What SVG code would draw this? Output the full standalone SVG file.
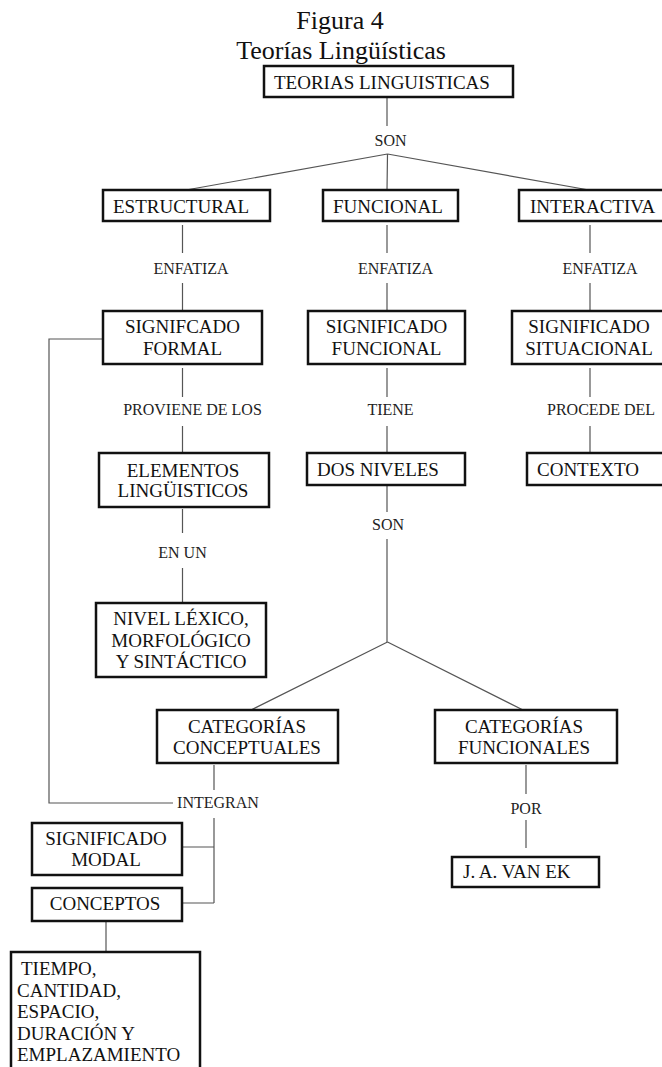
<svg xmlns="http://www.w3.org/2000/svg" width="662" height="1067" viewBox="0 0 662 1067">
<style>
text{font-family:"Liberation Serif","Times New Roman",serif;fill:#111}
.title{font-size:26px;text-anchor:middle}
.box{fill:#fff;stroke:#111;stroke-width:2.5}
.t{font-size:19px}
.c{text-anchor:middle}
.lbl{font-size:16px;text-anchor:middle;fill:#222}
.con{fill:none;stroke:#555;stroke-width:1.2}
</style>
<rect width="662" height="1067" fill="#fff"/>
<g id="title">
<text class="title" x="340" y="29">Figura 4</text>
<text class="title" x="341" y="59">Teorías Lingüísticas</text>
</g>
<g id="connectors">
<path class="con" d="M387 98V126"/>
<path class="con" d="M387.5 154L186 190M387.5 154L387 190M387.5 154L589 190"/>
<path class="con" d="M182.5 225V253M182.5 283V311M387 225V253M387 283V311M590 225V253M590 283V311"/>
<path class="con" d="M182.5 368V397M182.5 426V453M387 368V397M387 426V453M590 368V397M590 426V453"/>
<path class="con" d="M182.5 509V533M182.5 568V603"/>
<path class="con" d="M387 485V512M387 539V642"/>
<path class="con" d="M387.5 642L251 710M387.5 642L523 710"/>
<path class="con" d="M214 765V790M214 818V903M182 847H214M182 903H214"/>
<path class="con" d="M526 765V794M526 820V848"/>
<path class="con" d="M103 339H49V803H173"/>
<path class="con" d="M106 922V952"/>
</g>
<g id="labels">
<text class="lbl" x="390.5" y="146">SON</text>
<text class="lbl" x="191" y="274">ENFATIZA</text>
<text class="lbl" x="395.5" y="274">ENFATIZA</text>
<text class="lbl" x="600" y="274">ENFATIZA</text>
<text class="lbl" x="192.5" y="415">PROVIENE DE LOS</text>
<text class="lbl" x="390.5" y="415">TIENE</text>
<text class="lbl" x="601" y="415">PROCEDE DEL</text>
<text class="lbl" x="388" y="530">SON</text>
<text class="lbl" x="182.5" y="558">EN UN</text>
<text class="lbl" x="218" y="808">INTEGRAN</text>
<text class="lbl" x="526" y="814">POR</text>
</g>
<g id="n_teorias"><rect class="box" x="264" y="66" width="249" height="31"/><text class="t" x="274" y="89">TEORIAS LINGUISTICAS</text></g>
<g id="n_estructural"><rect class="box" x="103" y="190" width="167" height="31"/><text class="t" x="113" y="213">ESTRUCTURAL</text></g>
<g id="n_funcional"><rect class="box" x="323" y="190" width="135" height="31"/><text class="t" x="333" y="213">FUNCIONAL</text></g>
<g id="n_interactiva"><rect class="box" x="519" y="190" width="145" height="31"/><text class="t" x="530" y="213">INTERACTIVA</text></g>
<g id="n_sig_formal"><rect class="box" x="103" y="311" width="159" height="53"/><text class="t c" x="182.5" y="333">SIGNIFCADO</text><text class="t c" x="182.5" y="354.5">FORMAL</text></g>
<g id="n_sig_funcional"><rect class="box" x="308" y="311" width="157" height="53"/><text class="t c" x="386.5" y="333">SIGNIFICADO</text><text class="t c" x="386.5" y="354.5">FUNCIONAL</text></g>
<g id="n_sig_situacional"><rect class="box" x="512" y="311" width="152" height="53"/><text class="t c" x="589" y="333">SIGNIFICADO</text><text class="t c" x="589" y="354.5">SITUACIONAL</text></g>
<g id="n_elementos"><rect class="box" x="99" y="453" width="170" height="54"/><text class="t c" x="183" y="476.5">ELEMENTOS</text><text class="t c" x="183" y="497">LINGÜISTICOS</text></g>
<g id="n_dos_niveles"><rect class="box" x="307" y="453" width="158" height="32"/><text class="t" x="317" y="476">DOS NIVELES</text></g>
<g id="n_contexto"><rect class="box" x="527" y="453" width="137" height="32"/><text class="t" x="537" y="476">CONTEXTO</text></g>
<g id="n_nivel_lexico"><rect class="box" x="96" y="603" width="170" height="74"/><text class="t c" x="181" y="625">NIVEL LÉXICO,</text><text class="t c" x="181" y="646.5">MORFOLÓGICO</text><text class="t c" x="181" y="667.5">Y SINTÁCTICO</text></g>
<g id="n_cat_conceptuales"><rect class="box" x="157" y="710" width="181" height="53"/><text class="t c" x="247" y="733">CATEGORÍAS</text><text class="t c" x="247" y="754">CONCEPTUALES</text></g>
<g id="n_cat_funcionales"><rect class="box" x="435" y="710" width="182" height="53"/><text class="t c" x="524" y="733">CATEGORÍAS</text><text class="t c" x="524" y="754">FUNCIONALES</text></g>
<g id="n_sig_modal"><rect class="box" x="32" y="823" width="150" height="52"/><text class="t c" x="106" y="845">SIGNIFICADO</text><text class="t c" x="106" y="866">MODAL</text></g>
<g id="n_conceptos"><rect class="box" x="32" y="888" width="150" height="33"/><text class="t c" x="105" y="910">CONCEPTOS</text></g>
<g id="n_van_ek"><rect class="box" x="452" y="857" width="147" height="30"/><text class="t" x="463" y="878">J. A. VAN EK</text></g>
<g id="n_tiempo"><rect class="box" x="11" y="952" width="189" height="130"/><text class="t" x="21" y="975">TIEMPO,</text><text class="t" x="17" y="996.5">CANTIDAD,</text><text class="t" x="17" y="1018">ESPACIO,</text><text class="t" x="17" y="1039.5">DURACIÓN Y</text><text class="t" x="17" y="1061">EMPLAZAMIENTO</text></g>
</svg>
